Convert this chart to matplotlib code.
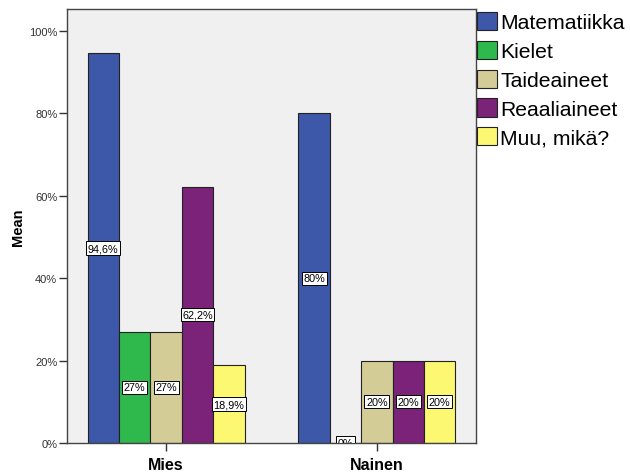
import matplotlib.pyplot as plt
import numpy as np

plt.rcParams['font.family'] = ['Liberation Sans', 'DejaVu Sans']

# Mean share per subject group, by gender
groups = ["Mies", "Nainen"]
subjects = ["Matematiikka", "Kielet", "Taideaineet", "Reaaliaineet", "Muu, mikä?"]
mies = [94.6, 27.0, 27.0, 62.2, 18.9]
nainen = [80.0, 0.0, 20.0, 20.0, 20.0]
colors = ["#3D57A9", "#2FB84B", "#D4CC96", "#7B2279", "#FCF872"]

values = np.array([mies, nainen])


def pct_label(v):
    s = f"{v:.1f}".rstrip("0").rstrip(".")
    return s.replace(".", ",") + "%"


fig = plt.figure(figsize=(6.3, 4.77), dpi=100)
ax = fig.add_axes([67 / 630, 1 - 444 / 477, (476 - 67) / 630, (444 - 10) / 477])
ax.set_facecolor("#F0F0F0")

x = np.arange(len(groups))
width = 0.149
offsets = (np.arange(len(subjects)) - 2) * width

for i, subj in enumerate(subjects):
    bars = ax.bar(x + offsets[i], values[:, i], width, color=colors[i],
                  edgecolor="#222222", linewidth=0.8, label=subj, zorder=2)
    for rect, v in zip(bars, values[:, i]):
        t = ax.text(rect.get_x() + rect.get_width() / 2, v / 2, pct_label(v),
                    ha="center", va="center", fontsize=7.8, color="black",
                    zorder=3, clip_on=True,
                    bbox=dict(boxstyle="square,pad=0.15", fc="white",
                              ec="black", lw=0.7))
        t.set_clip_path(ax.patch)

ax.set_xlim(-0.47, 1.47)
ax.set_ylim(0, 105.3)
ax.set_xticks(x)
ax.set_xticklabels(groups, fontsize=11.5, fontweight="bold")
ax.set_yticks(np.arange(0, 101, 20))
ax.set_yticklabels([f"{v}%" for v in range(0, 101, 20)], fontsize=8, color="#333333")
ax.tick_params(axis="y", length=6, width=1, color="#333333", pad=1)
ax.tick_params(axis="x", length=6, width=1, color="#333333", pad=4)
ax.set_ylabel("Mean", fontsize=10.5, fontweight="bold", labelpad=3)

for side in ax.spines.values():
    side.set_color("#444444")
    side.set_linewidth(1)

fig.legend(loc="upper left", bbox_to_anchor=(477 / 630, 1 - 13 / 477),
           frameon=False, fontsize=15.2, borderpad=0, borderaxespad=0,
           handlelength=0.95, handleheight=0.95, handletextpad=0.15,
           labelspacing=0.4)

plt.savefig("out.png", dpi=100, facecolor="white")
